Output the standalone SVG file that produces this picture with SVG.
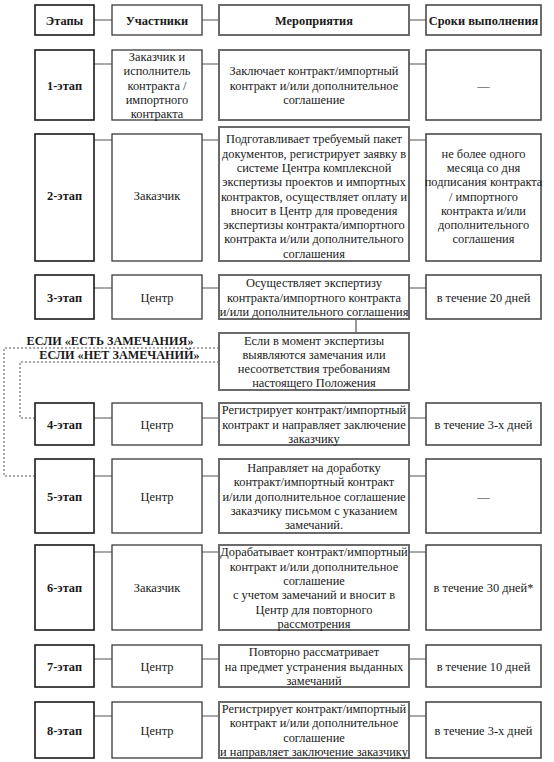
<svg xmlns="http://www.w3.org/2000/svg" width="554" height="762" viewBox="0 0 554 762">
<style>
text{font-family:"Liberation Serif","Times New Roman",serif;font-size:12.4px;fill:#1a1a1a;text-anchor:middle}
.b{font-weight:bold}
.l{font-weight:bold;font-size:12.2px}
.a{fill:#fff;stroke:#1a1a1a;stroke-width:1.6}
.p{fill:#fff;stroke:#3a3a3a;stroke-width:1.3}
.m{fill:#fff;stroke:#6a6a6a;stroke-width:2}
.d{fill:#fff;stroke:#4a4a4a;stroke-width:1.6}
.c{stroke:#555;stroke-width:1.2;fill:none}
.dot{stroke:#555;stroke-width:1;stroke-dasharray:2,2;fill:none}
</style>
<g id="connectors">
<path class="c" d="M94,20H112M202,20H219M409,20H426"/>
<path class="c" d="M94,64H112M202,64H219M409,64H426"/>
<path class="c" d="M94,140H112M202,140H219M409,140H426"/>
<path class="c" d="M94,288H112M202,288H219M409,288H426"/>
<path class="c" d="M356,319V333"/>
<path class="c" d="M94,418H112M202,418H219M409,418H426"/>
<path class="c" d="M94,476H112M202,476H219M409,476H426"/>
<path class="c" d="M94,552H112M202,552H219M409,552H426"/>
<path class="c" d="M94,659H112M202,659H219M409,659H426"/>
<path class="c" d="M94,716H112M202,716H219M409,716H426"/>
<path class="dot" d="M219,348H4V476H35"/>
<path class="dot" d="M219,362H20V418H35"/>
<text class="l" x="110" y="344.5">ЕСЛИ «ЕСТЬ ЗАМЕЧАНИЯ»</text>
<text class="l" x="119.5" y="358.5">ЕСЛИ «НЕТ ЗАМЕЧАНИЙ»</text>
</g>
<g id="header">
<rect class="a" x="35" y="5" width="59" height="30"/><text class="b" x="64.5" y="24.5">Этапы</text>
<rect class="p" x="112" y="5" width="90" height="30"/><text class="b" x="157" y="24.5">Участники</text>
<rect class="m" x="219" y="5" width="190" height="30"/><text class="b" x="314" y="24.5">Мероприятия</text>
<rect class="d" x="426" y="5" width="115" height="30"/><text class="b" x="483.5" y="24.5">Сроки выполнения</text>
</g>
<g id="stage1">
<rect class="a" x="35" y="50" width="59" height="70"/><text class="b" x="64.5" y="89.5">1-этап</text>
<rect class="p" x="112" y="50" width="90" height="70"/>
<text x="157" y="60.9"><tspan x="157">Заказчик и</tspan><tspan x="157" dy="14.3">исполнитель</tspan><tspan x="157" dy="14.3">контракта /</tspan><tspan x="157" dy="14.3">импортного</tspan><tspan x="157" dy="14.3">контракта</tspan></text>
<rect class="m" x="219" y="50" width="190" height="70"/>
<text x="314" y="75.2"><tspan x="314">Заключает контракт/импортный</tspan><tspan x="314" dy="14.3">контракт и/или дополнительное</tspan><tspan x="314" dy="14.3">соглашение</tspan></text>
<rect class="d" x="426" y="50" width="115" height="70"/><text x="483.5" y="89.5">—</text>
</g>
<g id="stage2">
<rect class="a" x="35" y="134" width="59" height="127"/><text class="b" x="64.5" y="200">2-этап</text>
<rect class="p" x="112" y="134" width="90" height="127"/><text x="157" y="200">Заказчик</text>
<rect class="m" x="219" y="127" width="190" height="134"/>
<text x="314" y="143.3"><tspan x="314">Подготавливает требуемый пакет</tspan><tspan x="314" dy="14.3">документов, регистрирует заявку в</tspan><tspan x="314" dy="14.3">системе Центра комплексной</tspan><tspan x="314" dy="14.3">экспертизы проектов и импортных</tspan><tspan x="314" dy="14.3">контрактов, осуществляет оплату и</tspan><tspan x="314" dy="14.3">вносит в Центр для проведения</tspan><tspan x="314" dy="14.3">экспертизы контракта/импортного</tspan><tspan x="314" dy="14.3">контракта и/или дополнительного</tspan><tspan x="314" dy="14.3">соглашения</tspan></text>
<rect class="d" x="426" y="134" width="115" height="127"/>
<text x="483.5" y="157.6"><tspan x="483.5">не более одного</tspan><tspan x="483.5" dy="14.3">месяца со дня</tspan><tspan x="483.5" dy="14.3">подписания контракта</tspan><tspan x="483.5" dy="14.3">/ импортного</tspan><tspan x="483.5" dy="14.3">контракта и/или</tspan><tspan x="483.5" dy="14.3">дополнительного</tspan><tspan x="483.5" dy="14.3">соглашения</tspan></text>
</g>
<g id="stage3">
<rect class="a" x="35" y="275" width="59" height="44"/><text class="b" x="64.5" y="301.5">3-этап</text>
<rect class="p" x="112" y="275" width="90" height="44"/><text x="157" y="301.5">Центр</text>
<rect class="m" x="219" y="275" width="190" height="44"/>
<text x="314" y="287.2"><tspan x="314">Осуществляет экспертизу</tspan><tspan x="314" dy="14.3">контракта/импортного контракта</tspan><tspan x="314" dy="14.3">и/или дополнительного соглашения</tspan></text>
<rect class="d" x="426" y="275" width="115" height="44"/><text x="483.5" y="301.5">в течение 20 дней</text>
</g>
<g id="condition">
<rect class="m" x="219" y="333" width="190" height="57"/>
<text x="314" y="344.5"><tspan x="314">Если в момент экспертизы</tspan><tspan x="314" dy="14.3">выявляются замечания или</tspan><tspan x="314" dy="14.3">несоответствия требованиям</tspan><tspan x="314" dy="14.3">настоящего Положения</tspan></text>
</g>
<g id="stage4">
<rect class="a" x="35" y="403" width="59" height="42"/><text class="b" x="64.5" y="428.5">4-этап</text>
<rect class="p" x="112" y="403" width="90" height="42"/><text x="157" y="428.5">Центр</text>
<rect class="m" x="219" y="403" width="190" height="42"/>
<text x="314" y="414.2"><tspan x="314">Регистрирует контракт/импортный</tspan><tspan x="314" dy="14.3">контракт и направляет заключение</tspan><tspan x="314" dy="14.3">заказчику</tspan></text>
<rect class="d" x="426" y="403" width="115" height="42"/><text x="483.5" y="428.5">в течение 3-х дней</text>
</g>
<g id="stage5">
<rect class="a" x="35" y="459" width="59" height="74"/><text class="b" x="64.5" y="500.5">5-этап</text>
<rect class="p" x="112" y="459" width="90" height="74"/><text x="157" y="500.5">Центр</text>
<rect class="m" x="219" y="459" width="190" height="74"/>
<text x="314" y="471.9"><tspan x="314">Направляет на доработку</tspan><tspan x="314" dy="14.3">контракт/импортный контракт</tspan><tspan x="314" dy="14.3">и/или дополнительное соглашение</tspan><tspan x="314" dy="14.3">заказчику письмом с указанием</tspan><tspan x="314" dy="14.3">замечаний.</tspan></text>
<rect class="d" x="426" y="459" width="115" height="74"/><text x="483.5" y="500.5">—</text>
</g>
<g id="stage6">
<rect class="a" x="35" y="545" width="59" height="85"/><text class="b" x="64.5" y="592">6-этап</text>
<rect class="p" x="112" y="545" width="90" height="85"/><text x="157" y="592">Заказчик</text>
<rect class="m" x="219" y="545" width="190" height="85"/>
<text x="314" y="556.3"><tspan x="314">Дорабатывает контракт/импортный</tspan><tspan x="314" dy="14.3">контракт и/или дополнительное</tspan><tspan x="314" dy="14.3">соглашение</tspan><tspan x="314" dy="14.3">с учетом замечаний и вносит в</tspan><tspan x="314" dy="14.3">Центр для повторного</tspan><tspan x="314" dy="14.3">рассмотрения</tspan></text>
<rect class="d" x="426" y="545" width="115" height="85"/><text x="483.5" y="592">в течение 30 дней*</text>
</g>
<g id="stage7">
<rect class="a" x="35" y="645" width="59" height="42"/><text class="b" x="64.5" y="670.5">7-этап</text>
<rect class="p" x="112" y="645" width="90" height="42"/><text x="157" y="670.5">Центр</text>
<rect class="m" x="219" y="645" width="190" height="42"/>
<text x="314" y="656.2"><tspan x="314">Повторно рассматривает</tspan><tspan x="314" dy="14.3">на предмет устранения выданных</tspan><tspan x="314" dy="14.3">замечаний</tspan></text>
<rect class="d" x="426" y="645" width="115" height="42"/><text x="483.5" y="670.5">в течение 10 дней</text>
</g>
<g id="stage8">
<rect class="a" x="35" y="702" width="59" height="56"/><text class="b" x="64.5" y="734.5">8-этап</text>
<rect class="p" x="112" y="702" width="90" height="56"/><text x="157" y="734.5">Центр</text>
<rect class="m" x="219" y="702" width="190" height="56"/>
<text x="314" y="713"><tspan x="314">Регистрирует контракт/импортный</tspan><tspan x="314" dy="14.3">контракт и/или дополнительное</tspan><tspan x="314" dy="14.3">соглашение</tspan><tspan x="314" dy="14.3">и направляет заключение заказчику</tspan></text>
<rect class="d" x="426" y="702" width="115" height="56"/><text x="483.5" y="734.5">в течение 3-х дней</text>
</g>
</svg>
